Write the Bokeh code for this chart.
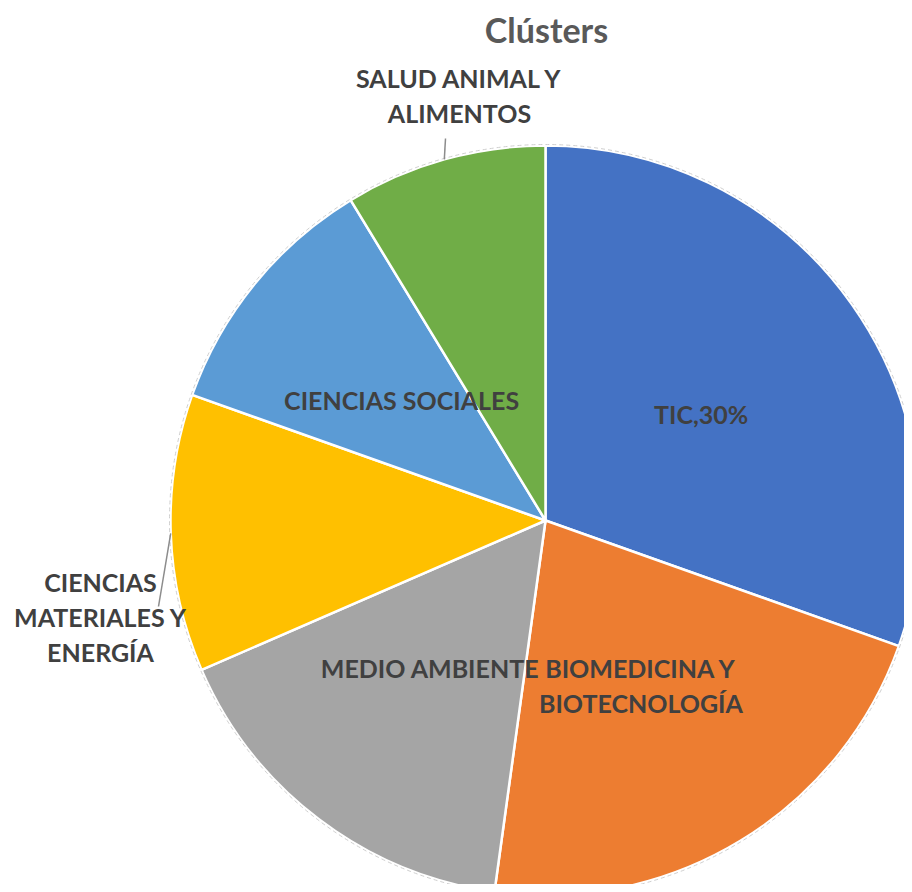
import numpy as np
from bokeh.plotting import figure
from bokeh.models import Range1d, ColumnDataSource
from bokeh.embed import file_html
from bokeh.resources import INLINE
from bokeh.core.properties import value

# ---------------- data ----------------
title = "Clústers"
categories = ["TIC", "BIOMEDICINA Y BIOTECNOLOGÍA", "MEDIO AMBIENTE",
              "CIENCIAS MATERIALES Y ENERGÍA", "CIENCIAS SOCIALES",
              "SALUD ANIMAL Y ALIMENTOS"]
values = [28, 20, 15, 11, 10, 8]
label_lines = [["TIC,30%"], ["BIOMEDICINA Y", "BIOTECNOLOGÍA"], ["MEDIO AMBIENTE"],
               ["CIENCIAS", "MATERIALES Y", "ENERGÍA"], ["CIENCIAS SOCIALES"],
               ["SALUD ANIMAL Y", "ALIMENTOS"]]
colors = ["#4472C4", "#ED7D31", "#A5A5A5", "#FFC000", "#5B9BD5", "#70AD47"]

# ---------------- layout (screen pixel coords) ----------------
W, H = 904, 884
def Y(py):
    return H - py

CX, CY, R = 545, Y(520), 375
FONT = value("Lato")
LINE_H = 35
# outside labels: index -> (center x, center y of label block, leader end x, leader end y)
outside = {3: (100, 616, 158, 606), 5: (459, 95, 445, 138)}
inside_r = 0.505
# small per-label nudges (dx, dy) in screen pixels
nudge = {0: (1, 3), 1: (-3, 3), 2: (-1, -3), 4: (3, -1)}

p = figure(width=W, height=H, output_backend="svg", toolbar_location=None,
           x_range=Range1d(0, W), y_range=Range1d(0, H),
           x_axis_location=None, y_axis_location=None, min_border=0)
p.grid.visible = False
p.outline_line_color = None
p.background_fill_color = "white"
p.border_fill_color = "white"

vals = np.array(values, dtype=float)
frac = vals / vals.sum()
cum = np.cumsum(frac)
start = np.pi / 2 - 2 * np.pi * (cum - frac)
end = np.pi / 2 - 2 * np.pi * cum
mid = (start + end) / 2

src = ColumnDataSource(dict(cat=categories, val=values, color=colors,
                            start=start, end=end))
p.wedge(x=CX, y=CY, radius=R, start_angle="start", end_angle="end",
        direction="clock", fill_color="color", line_color="white",
        line_width=2.5, source=src)
p.circle(x=[CX], y=[CY], radius=R + 1, fill_color=None, line_color="#cfcfcf",
         line_dash="4 3", line_width=1)

tx, ty, tt = [], [], []
lx0, ly0, lx1, ly1 = [], [], [], []
for i, lines in enumerate(label_lines):
    n = len(lines)
    if i in outside:
        bx, by, ex, ey = outside[i]
        bcy = Y(by)
        sx = CX + R * np.cos(mid[i])
        sy = CY + R * np.sin(mid[i])
        lx0.append(sx); ly0.append(sy); lx1.append(ex); ly1.append(Y(ey))
    else:
        dx, dy = nudge.get(i, (0, 0))
        bx = CX + inside_r * R * np.cos(mid[i]) + dx
        bcy = CY + inside_r * R * np.sin(mid[i]) - dy
    for k, t in enumerate(lines):
        tx.append(bx)
        ty.append(bcy + ((n - 1) / 2 - k) * LINE_H)
        tt.append(t)

p.segment(x0=lx0, y0=ly0, x1=lx1, y1=ly1, line_color="#8c8c8c", line_width=1.5)
p.text(x=tx, y=ty, text=tt, text_font=FONT, text_font_style="bold",
       text_font_size="25px", text_color="#404040", text_align="center",
       text_baseline="middle")

p.text(x=[546], y=[Y(29)], text=[title], text_font=FONT, text_font_style="bold",
       text_font_size="34px", text_color="#595959", text_align="center",
       text_baseline="middle")

open("out.html", "w").write(file_html(p, INLINE))
